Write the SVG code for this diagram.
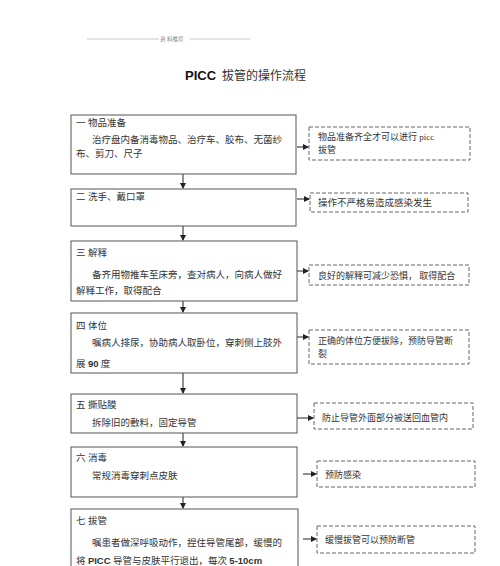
<svg xmlns="http://www.w3.org/2000/svg" width="500" height="566" viewBox="0 0 500 566">
<style>
.bg{fill:#fff}
.main{fill:#fff;stroke:#555;stroke-width:1}
.side{fill:#fff;stroke:#666;stroke-width:1;stroke-dasharray:4 2}
.t{font-family:"Liberation Serif","Noto Sans CJK SC",serif;font-size:9.5px;fill:#333}
.s{font-family:"Liberation Serif","Noto Sans CJK SC",serif;font-size:9px;fill:#333}
.b{font-family:"Liberation Sans",Arial,sans-serif;font-weight:bold}
.conn{stroke:#222;stroke-width:1;fill:none;marker-end:url(#ah)}
</style>
<defs>
<marker id="ah" markerWidth="6" markerHeight="6" refX="5" refY="3" orient="auto" markerUnits="userSpaceOnUse">
<path d="M0,0 L6,3 L0,6 z" fill="#222"/>
</marker>
</defs>
<rect class="bg" x="0" y="0" width="500" height="566"/>
<g id="header">
<line x1="87" y1="39" x2="159" y2="39" stroke="#bbb" stroke-width="0.8"/>
<line x1="190" y1="39" x2="250" y2="39" stroke="#bbb" stroke-width="0.8"/>
<text x="160" y="41" style="font-family:'Liberation Serif','Noto Sans CJK SC',serif;font-size:5.5px;fill:#888">资 料推荐</text>
</g>
<g id="title">
<text x="185" y="80" style="font-family:'Liberation Sans','Noto Sans CJK SC',sans-serif;font-size:13px;fill:#111"><tspan font-weight="bold">PICC</tspan><tspan dx="6" font-size="12px" font-family="'Noto Sans CJK SC',serif" fill="#333">拔管的操作流程</tspan></text>
</g>
<g id="connectors">
<line class="conn" x1="183" y1="174" x2="183" y2="188"/>
<line class="conn" x1="183" y1="226" x2="183" y2="240"/>
<line class="conn" x1="183" y1="301" x2="183" y2="312"/>
<line class="conn" x1="183" y1="373" x2="183" y2="393"/>
<line class="conn" x1="183" y1="433" x2="183" y2="446"/>
<line class="conn" x1="183" y1="497" x2="183" y2="508"/>
<line class="conn" x1="297" y1="147" x2="308" y2="147"/>
<line class="conn" x1="297" y1="199" x2="309" y2="199"/>
<line class="conn" x1="297" y1="271" x2="308" y2="271"/>
<line class="conn" x1="297" y1="337" x2="308" y2="337"/>
<line class="conn" x1="297" y1="418" x2="313" y2="418"/>
<line class="conn" x1="303" y1="474" x2="316" y2="474"/>
<line class="conn" x1="303" y1="539" x2="316" y2="539"/>
</g>
<g id="n1">
<rect class="main" x="71" y="115" width="225" height="59"/>
<text class="t" x="76" y="126">一 物品准备</text>
<text class="t" x="92" y="143">治疗盘内备消毒物品、治疗车、胶布、无菌纱</text>
<text class="t" x="76" y="157">布、剪刀、尺子</text>
</g>
<g id="n2">
<rect class="main" x="71" y="189" width="225" height="37"/>
<text class="t" x="76" y="200">二 洗手、戴口罩</text>
</g>
<g id="n3">
<rect class="main" x="71" y="241" width="226" height="60"/>
<text class="t" x="76" y="256">三 解释</text>
<text class="t" x="92" y="278">备齐用物推车至床旁，查对病人，向病人做好</text>
<text class="t" x="76" y="294">解释工作，取得配合</text>
</g>
<g id="n4">
<rect class="main" x="71" y="313" width="226" height="60"/>
<text class="t" x="76" y="329">四 体位</text>
<text class="t" x="92" y="346">嘱病人排尿，协助病人取卧位，穿刺侧上肢外</text>
<text class="t" x="76" y="367">展 <tspan class="b">90</tspan> 度</text>
</g>
<g id="n5">
<rect class="main" x="71" y="394" width="226" height="39"/>
<text class="t" x="76" y="408">五 撕贴膜</text>
<text class="t" x="92" y="426">拆除旧的敷料，固定导管</text>
</g>
<g id="n6">
<rect class="main" x="71" y="447" width="226" height="50"/>
<text class="t" x="76" y="461">六 消毒</text>
<text class="t" x="92" y="479">常规消毒穿刺点皮肤</text>
</g>
<g id="n7">
<rect class="main" x="71" y="509" width="227" height="70"/>
<text class="t" x="76" y="524">七 拔管</text>
<text class="t" x="92" y="546">嘱患者做深呼吸动作，捏住导管尾部，缓慢的</text>
<text class="t" x="76" y="564">将 <tspan class="b">PICC</tspan> 导管与皮肤平行退出，每次 <tspan class="b">5-10cm</tspan></text>
</g>
<g id="s1">
<rect class="side" x="309" y="127" width="161" height="33"/>
<text class="s" x="318" y="140">物品准备齐全才可以进行 picc</text>
<text class="s" x="318" y="153">拔管</text>
</g>
<g id="s2">
<rect class="side" x="310" y="193" width="158" height="19"/>
<text class="s" x="318" y="206" style="font-size:9.5px">操作不严格易造成感染发生</text>
</g>
<g id="s3">
<rect class="side" x="309" y="265" width="160" height="20"/>
<text class="s" x="318" y="279">良好的解释可减少恐惧， 取得配合</text>
</g>
<g id="s4">
<rect class="side" x="309" y="330" width="160" height="34"/>
<text class="s" x="318" y="344">正确的体位方便拔除，预防导管断</text>
<text class="s" x="318" y="357">裂</text>
</g>
<g id="s5">
<rect class="side" x="314" y="403" width="159" height="26"/>
<text class="s" x="322" y="421">防止导管外面部分被送回血管内</text>
</g>
<g id="s6">
<rect class="side" x="317" y="461" width="158" height="26"/>
<text class="s" x="325" y="478">预防感染</text>
</g>
<g id="s7">
<rect class="side" x="317" y="526" width="158" height="27"/>
<text class="s" x="325" y="543">缓慢拔管可以预防断管</text>
</g>
</svg>
